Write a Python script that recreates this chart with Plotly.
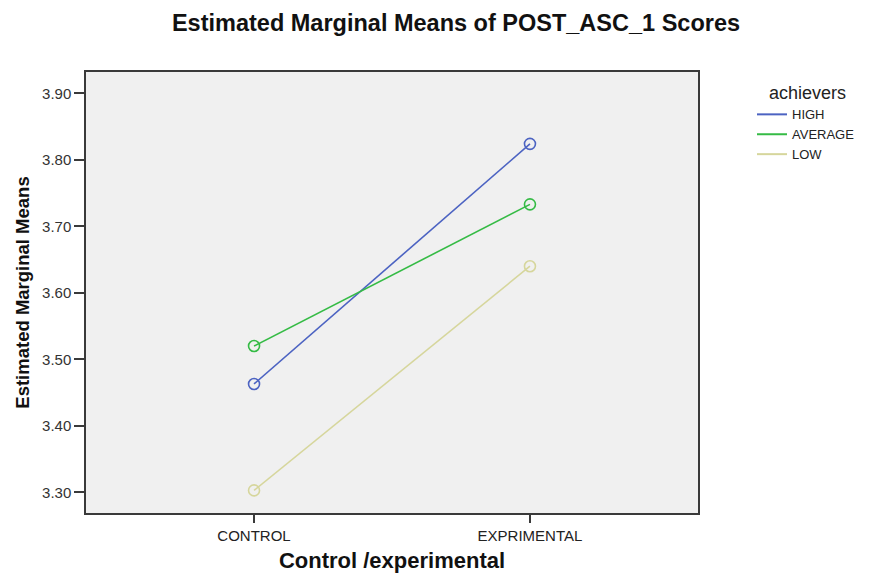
import plotly.graph_objects as go

groups = ["CONTROL", "EXPRIMENTAL"]
series_names = ["HIGH", "AVERAGE", "LOW"]
high = [3.463, 3.824]
average = [3.520, 3.733]
low = [3.303, 3.640]
y_ticks = [3.30, 3.40, 3.50, 3.60, 3.70, 3.80, 3.90]
y_tick_labels = ["3.30", "3.40", "3.50", "3.60", "3.70", "3.80", "3.90"]

colors = ["#4c63c2", "#35bb45", "#d6d69c"]
values = [high, average, low]
xpos = list(range(len(groups)))

W, H = 869, 573
OFF = 8  # page offset

fig = go.Figure()
for name, vals, col in zip(series_names, values, colors):
    fig.add_trace(go.Scatter(
        x=xpos, y=vals, mode="lines+markers", name=name, showlegend=False,
        line=dict(color=col, width=1.6),
        marker=dict(symbol="circle-open", size=11, color=col, line=dict(width=1.6, color=col)),
    ))
for name, col in zip(series_names, colors):
    fig.add_trace(go.Scatter(
        x=[None], y=[None], mode="lines", name=name, showlegend=True,
        line=dict(color=col, width=2),
    ))

fig.update_layout(
    width=W, height=H,
    margin=dict(l=86 - OFF, r=W - (698 - OFF), t=72 - OFF, b=H - (513 - OFF)),
    paper_bgcolor="white", plot_bgcolor="#f0f0f0",
    font=dict(family="Liberation Sans, Arial, sans-serif", color="#222"),
    title=dict(text="<b>Estimated Marginal Means of POST_ASC_1 Scores</b>",
               x=(456 - OFF) / W, xanchor="center", xref="container",
               y=1 - (23 - OFF) / H, yanchor="middle", yref="container",
               font=dict(size=23.5, color="#111")),
    legend=dict(
        title=dict(text="&nbsp;&nbsp;&nbsp;achievers", font=dict(size=18, color="#222"), side="top"),
        x=(757 - OFF - 5) / W, xref="container", xanchor="left",
        y=1 - (76 - OFF) / H, yref="container", yanchor="top",
        bgcolor="rgba(0,0,0,0)", font=dict(size=13, color="#222"),
        itemwidth=30, tracegroupgap=0,
    ),
    xaxis=dict(
        range=[-0.609, 1.609], tickvals=xpos, ticktext=groups,
        showgrid=False, zeroline=False,
        showline=True, linecolor="#3a3a3a", linewidth=1.5, mirror=True,
        ticks="outside", ticklen=8, tickcolor="#3a3a3a", tickwidth=1.5,
        tickfont=dict(size=15, color="#222"),
        title=dict(text="<b>Control /experimental</b>", font=dict(size=22, color="#111"), standoff=10),
    ),
    yaxis=dict(
        range=[3.269, 3.932], tickvals=y_ticks, ticktext=y_tick_labels,
        showgrid=False, zeroline=False,
        showline=True, linecolor="#3a3a3a", linewidth=1.5, mirror=True,
        ticks="outside", ticklen=10, tickcolor="#3a3a3a", tickwidth=1.5,
        tickfont=dict(size=15, color="#333"),
        title=dict(text="<b>Estimated Marginal Means</b>", font=dict(size=18.5, color="#111"), standoff=8),
    ),
)

fig.write_html("out.html")
